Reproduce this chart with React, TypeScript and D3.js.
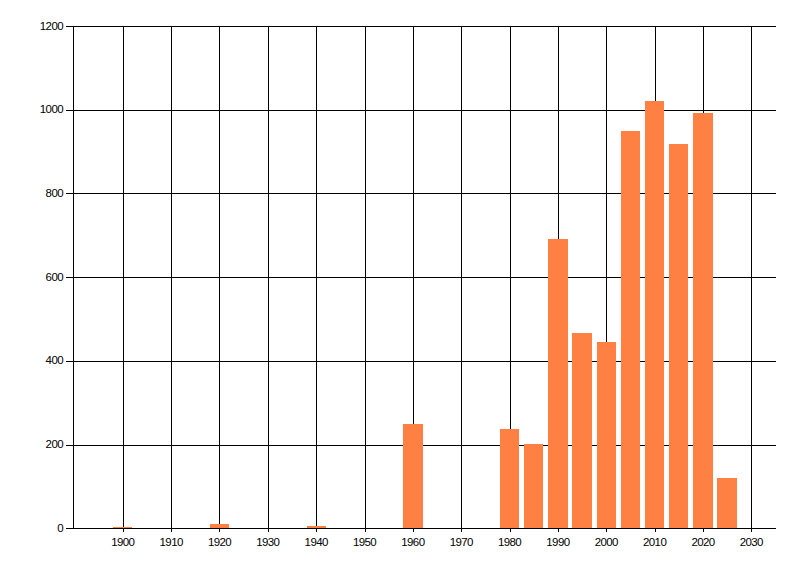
import React from "react";
import * as d3 from "d3";

const years = [1900, 1920, 1940, 1960, 1980, 1985, 1990, 1995, 2000, 2005, 2010, 2015, 2020, 2025];
const values = [3, 11, 5, 249, 238, 202, 691, 467, 445, 949, 1021, 918, 992, 120];
const xTicks = [1900, 1910, 1920, 1930, 1940, 1950, 1960, 1970, 1980, 1990, 2000, 2010, 2020, 2030];
const yTicks = [0, 200, 400, 600, 800, 1000, 1200];

const W = 800;
const H = 576;
const left = 73;
const right = 775.5;
const top = 26;
const bottom = 528.3;
const barYears = 4;

export default function App() {
  const x = d3.scaleLinear().domain([1889.7, 2035]).range([left, right]);
  const y = d3.scaleLinear().domain([0, 1200]).range([bottom, top]);
  const font = "'Liberation Sans', Arial, sans-serif";
  return (
    <svg width={W} height={H} style={{ position: "absolute", left: 0, top: 0, background: "#fff" }}>
      <g shapeRendering="crispEdges">
        {yTicks.map((t) => (
          <line key={"gy" + t} x1={left - 7} x2={right} y1={Math.round(y(t)) + 0.5} y2={Math.round(y(t)) + 0.5} stroke="#000" strokeWidth={1} />
        ))}
        {xTicks.map((t) => (
          <line key={"gx" + t} x1={Math.round(x(t)) + 0.5} x2={Math.round(x(t)) + 0.5} y1={top} y2={bottom + 4} stroke="#000" strokeWidth={1} />
        ))}
        <line x1={left + 0.5} x2={left + 0.5} y1={top} y2={bottom} stroke="#000" />
        {years.map((yr, i) => (
          <rect
            key={"b" + yr}
            x={x(yr - barYears / 2)}
            width={x(yr + barYears / 2) - x(yr - barYears / 2)}
            y={y(values[i])}
            height={y(0) - y(values[i])}
            fill="#ff8042"
          />
        ))}
        <line x1={left - 7} x2={right} y1={Math.round(y(0)) + 0.5} y2={Math.round(y(0)) + 0.5} stroke="#000" />
      </g>
      {yTicks.map((t) => (
        <text key={"ly" + t} x={63} y={y(t) + 3.5} textAnchor="end" fontFamily={font} fontSize={11.5} letterSpacing={-0.6} fill="#000">
          {t}
        </text>
      ))}
      {xTicks.map((t) => (
        <text key={"lx" + t} x={x(t)} y={546} textAnchor="middle" fontFamily={font} fontSize={11.5} letterSpacing={-0.6} fill="#000">
          {t}
        </text>
      ))}
    </svg>
  );
}
